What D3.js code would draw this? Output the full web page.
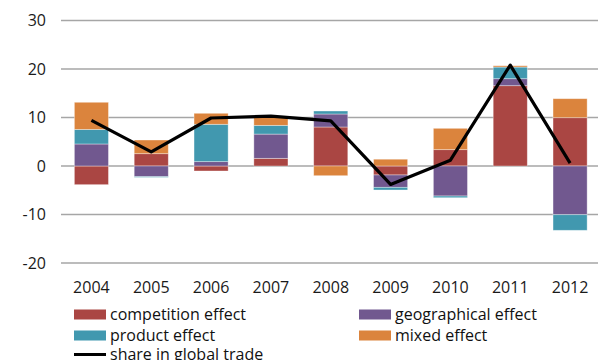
<!DOCTYPE html>
<html>
<head>
<meta charset="utf-8">
<script src="https://cdn.jsdelivr.net/npm/d3@7"></script>
<style>
  html, body { margin: 0; padding: 0; background: #fff; }
  svg { display: block; font-family: "Open Sans", sans-serif; }
</style>
</head>
<body>
<svg id="chart" width="598" height="360"></svg>
<script>
// Decomposition of changes in share of global trade, by year
const years = ["2004", "2005", "2006", "2007", "2008", "2009", "2010", "2011", "2012"];
const competition = [-3.85, 2.54, -1.03, 1.58, 8.04, -1.85, 3.37, 16.56, 9.96];
const geographical = [4.54, -2.2, 0.9, 5.0, 2.68, -2.55, -6.19, 1.44, -10.04];
const product = [3.0, -0.15, 7.7, 1.8, 0.62, -0.55, -0.35, 2.4, -3.22];
const mixed = [5.6, 2.82, 2.27, 1.78, -2.0, 1.4, 4.4, 0.27, 3.92];
const share = [9.4, 2.9, 9.9, 10.3, 9.3, -3.8, 1.2, 20.8, 0.6];
const yTicks = [-20, -10, 0, 10, 20, 30];

const seriesKeys = ["competition", "geographical", "product", "mixed"];
const seriesNames = {
  competition: "competition effect",
  geographical: "geographical effect",
  product: "product effect",
  mixed: "mixed effect"
};
const colors = {
  competition: "#AA4643",
  geographical: "#71588F",
  product: "#4198AF",
  mixed: "#DB843D"
};

const rows = years.map((y, i) => ({
  year: y,
  competition: competition[i],
  geographical: geographical[i],
  product: product[i],
  mixed: mixed[i]
}));

const svg = d3.select("#chart");
const fontSize = 16;

const x = d3.scaleBand()
  .domain(years)
  .range([61.5, 600])
  .paddingInner(0.43)
  .paddingOuter(0.215);

const y = d3.scaleLinear()
  .domain([-20, 30])
  .range([263, 20.5]);

// horizontal gridlines
svg.append("g")
  .selectAll("line")
  .data(yTicks)
  .join("line")
  .attr("x1", 61)
  .attr("x2", 598)
  .attr("y1", d => y(d))
  .attr("y2", d => y(d))
  .attr("stroke", "#A6A6A6")
  .attr("stroke-width", 1.3);

// y tick labels
svg.append("g")
  .selectAll("text")
  .data(yTicks)
  .join("text")
  .attr("x", 46)
  .attr("y", d => y(d))
  .attr("dy", "0.35em")
  .attr("text-anchor", "end")
  .attr("font-size", fontSize)
  .attr("fill", "#1a1a1a")
  .text(d => d);

// x tick labels
svg.append("g")
  .selectAll("text")
  .data(years)
  .join("text")
  .attr("x", d => x(d) + x.bandwidth() / 2)
  .attr("y", 287.5)
  .attr("dy", "0.35em")
  .attr("text-anchor", "middle")
  .attr("font-size", fontSize)
  .attr("fill", "#1a1a1a")
  .text(d => d);

// stacked bars, positive and negative parts stacked separately
const stacked = d3.stack()
  .keys(seriesKeys)
  .offset(d3.stackOffsetDiverging)(rows);

svg.append("g")
  .selectAll("g")
  .data(stacked)
  .join("g")
  .attr("fill", d => colors[d.key])
  .selectAll("rect")
  .data(d => d)
  .join("rect")
  .attr("x", d => x(d.data.year))
  .attr("width", x.bandwidth())
  .attr("y", d => y(Math.max(d[0], d[1])))
  .attr("height", d => Math.abs(y(d[0]) - y(d[1])))
  .attr("stroke", "rgba(255,255,255,0.45)")
  .attr("stroke-width", 0.8);

// share in global trade line
const line = d3.line()
  .x((d, i) => x(years[i]) + x.bandwidth() / 2)
  .y(d => y(d));

svg.append("path")
  .datum(share)
  .attr("d", line)
  .attr("fill", "none")
  .attr("stroke", "#000")
  .attr("stroke-width", 3.2)
  .attr("stroke-linejoin", "round");

// legend
const legendItems = [
  { key: "competition", x: 74, y: 314.5 },
  { key: "geographical", x: 359, y: 314.5 },
  { key: "product", x: 74, y: 335.5 },
  { key: "mixed", x: 359, y: 335.5 }
];

const legend = svg.append("g");
legendItems.forEach(item => {
  legend.append("rect")
    .attr("x", item.x)
    .attr("y", item.y - 5)
    .attr("width", 32)
    .attr("height", 10)
    .attr("fill", colors[item.key]);
  legend.append("text")
    .attr("x", item.x + 36)
    .attr("y", item.y)
    .attr("dy", "0.35em")
    .attr("font-size", fontSize)
    .attr("fill", "#111")
    .text(seriesNames[item.key]);
});

legend.append("line")
  .attr("x1", 74)
  .attr("x2", 106)
  .attr("y1", 354.5)
  .attr("y2", 354.5)
  .attr("stroke", "#000")
  .attr("stroke-width", 3);
legend.append("text")
  .attr("x", 110)
  .attr("y", 354.5)
  .attr("dy", "0.35em")
  .attr("font-size", fontSize)
  .attr("fill", "#111")
  .text("share in global trade");
</script>
</body>
</html>
